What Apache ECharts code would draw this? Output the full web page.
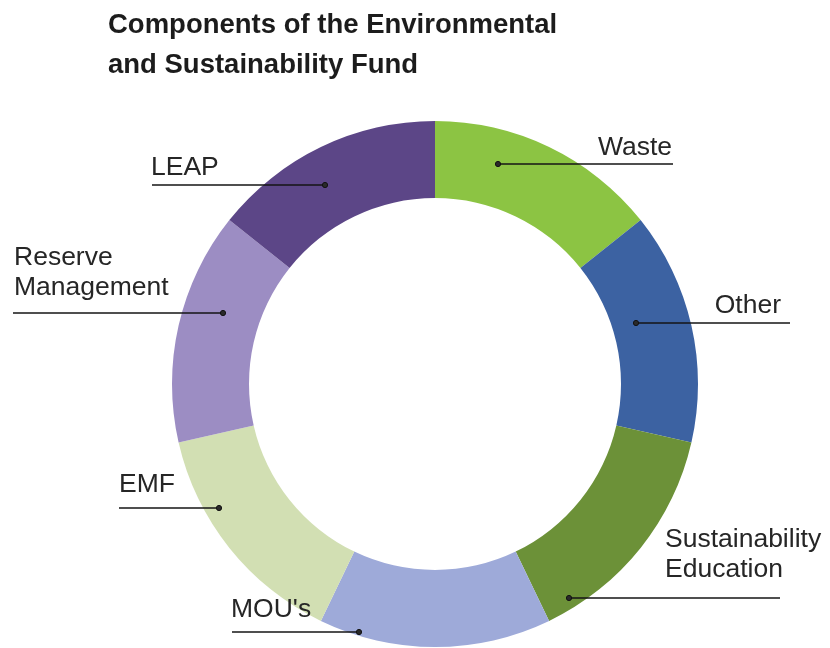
<!DOCTYPE html>
<html>
<head>
<meta charset="utf-8">
<script src="https://cdn.jsdelivr.net/npm/echarts@6/dist/echarts.min.js"></script>
<style>
  html, body { margin: 0; padding: 0; background: #fff; }
  #chart { width: 830px; height: 648px; }
</style>
</head>
<body>
<div id="chart"></div>
<script>
// fund components, clockwise from 12 o'clock
var categories = ['Waste', 'Other', 'Sustainability\nEducation', "MOU's", 'EMF', 'Reserve\nManagement', 'LEAP'];
var shares = [1, 1, 1, 1, 1, 1, 1];
var colors = ['#8cc443', '#3c62a2', '#6c9138', '#9eaad9', '#d2dfb3', '#9c8dc3', '#5c4687'];

// leader lines: dot on the ring, far end of the line, label anchor
var leaders = [
    {dot: [498, 164], end: 673, lx: 672, ly: 163, align: 'right'},
    {dot: [636, 323], end: 790, lx: 781, ly: 321, align: 'right'},
    {dot: [569, 598], end: 780, lx: 665, ly: 585, align: 'left'},
    {dot: [359, 632], end: 232, lx: 231, ly: 625, align: 'left'},
    {dot: [219, 508], end: 119, lx: 119, ly: 500, align: 'left'},
    {dot: [223, 313], end: 13,  lx: 14,  ly: 303, align: 'left'},
    {dot: [325, 185], end: 152, lx: 151, ly: 183, align: 'left'}
];

var chart = echarts.init(document.getElementById('chart'));

var d = [];
for (var i in categories) {
    d.push({name: categories[i], value: shares[i], itemStyle: {color: colors[i]}});
}

// leader lines and dots sit on top of the ring
var marks = [];
for (var j in leaders) {
    var l = leaders[j];
    marks.push({
        type: 'line',
        z: 100,
        shape: {x1: l.dot[0], y1: l.dot[1], x2: l.end, y2: l.dot[1]},
        style: {stroke: '#141414', lineWidth: 1.6}
    });
    marks.push({
        type: 'circle',
        z: 101,
        shape: {cx: l.dot[0], cy: l.dot[1], r: 2.6},
        style: {fill: '#2a2a2a', stroke: '#111', lineWidth: 1}
    });
}

option = {
    backgroundColor: '#fff',
    animation: false,
    title: {
        text: 'Components of the Environmental\nand Sustainability Fund',
        left: 103,
        top: 0,
        textStyle: {
            fontFamily: 'Liberation Sans',
            fontWeight: 'bold',
            fontSize: 27.5,
            lineHeight: 40,
            color: '#1c1c1c'
        }
    },
    graphic: marks,
    series: [
        {
            type: 'pie',
            center: [435, 384],
            radius: [186, 263],
            startAngle: 90,
            clockwise: true,
            avoidLabelOverlap: false,
            itemStyle: {borderWidth: 0},
            label: {
                show: true,
                position: 'outside',
                fontFamily: 'Liberation Sans',
                fontSize: 26.5,
                lineHeight: 30,
                color: '#262626'
            },
            labelLine: {show: false},
            labelLayout: function (params) {
                var l = leaders[params.dataIndex];
                return {
                    x: l.lx,
                    y: l.ly,
                    align: l.align,
                    verticalAlign: 'bottom'
                };
            },
            data: d
        }
    ]
};
chart.setOption(option);
</script>
</body>
</html>
